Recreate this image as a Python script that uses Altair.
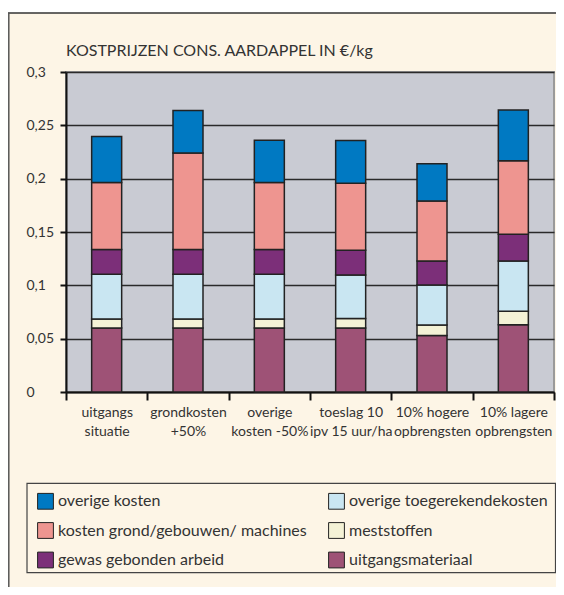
import altair as alt
import pandas as pd

categories = ["uitgangs|situatie", "grondkosten|+50%", "overige|kosten -50%",
              "toeslag 10|ipv 15 uur/ha", "10% hogere|opbrengsten", "10% lagere|opbrengsten"]

# stack order bottom -> top
uitgangsmateriaal = [0.060, 0.060, 0.060, 0.060, 0.053, 0.063]
meststoffen = [0.0085, 0.0085, 0.0085, 0.0088, 0.0098, 0.0126]
overige_toegerekend = [0.042, 0.042, 0.042, 0.041, 0.0375, 0.0472]
gewas_arbeid = [0.023, 0.023, 0.023, 0.023, 0.0225, 0.0252]
grond_gebouwen = [0.063, 0.0905, 0.063, 0.063, 0.0562, 0.0689]
overige_kosten = [0.043, 0.040, 0.0395, 0.040, 0.035, 0.0475]

series_names = ["uitgangsmateriaal", "meststoffen", "overige toegerekendekosten",
                "gewas gebonden arbeid", "kosten grond/gebouwen/ machines", "overige kosten"]
series_values = [uitgangsmateriaal, meststoffen, overige_toegerekend,
                 gewas_arbeid, grond_gebouwen, overige_kosten]

# legend is filled column by column
legend_order = ["overige kosten", "kosten grond/gebouwen/ machines", "gewas gebonden arbeid",
                "overige toegerekendekosten", "meststoffen", "uitgangsmateriaal"]
legend_colors = ["#0079C2", "#EE9590", "#7C2F79", "#C9E6F2", "#F4F2D6", "#9E5276"]

y_ticks = [0, 0.05, 0.1, 0.15, 0.2, 0.25, 0.3]

rows = []
for k, (name, vals) in enumerate(zip(series_names, series_values)):
    for c, v in zip(categories, vals):
        rows.append({"cat": c, "serie": name, "value": v, "ord": k})
df = pd.DataFrame(rows)

FONT = "Lato"
TXT = "#333333"

bars = alt.Chart(df).mark_bar(size=30, stroke="#222222", strokeWidth=1.5).encode(
    x=alt.X("cat:N", sort=categories, scale=alt.Scale(paddingInner=0, paddingOuter=0),
            axis=alt.Axis(title=None, labelExpr="split(datum.label, '|')", tickBand="extent",
                          labelAngle=0, labelFont=FONT, labelFontSize=14, labelColor=TXT,
                          labelLineHeight=19, labelPadding=5, labelBaseline="top",
                          tickSize=8, tickWidth=2, tickColor="#111111",
                          domainColor="#111111", domainWidth=2, grid=False)),
    y=alt.Y("value:Q", stack="zero", scale=alt.Scale(domain=[0, 0.3], nice=False),
            axis=alt.Axis(title=None, values=y_ticks, format="~g",
                          labelExpr="replace(datum.label, '.', ',')",
                          labelAlign="left", labelPadding=34, labelFont=FONT,
                          labelFontSize=14, labelColor=TXT,
                          tickSize=6, tickWidth=2, tickColor="#111111",
                          domainColor="#111111", domainWidth=2,
                          grid=True, gridColor="#2a2a2a", gridWidth=1.5)),
    color=alt.Color("serie:N", scale=alt.Scale(domain=legend_order, range=legend_colors),
                    legend=alt.Legend(title=None, orient="none", legendX=-38, legendY=411.5,
                                      columns=2, columnPadding=19, rowPadding=8.5,
                                      symbolType="square", symbolSize=250,
                                      symbolStrokeColor="#222222", symbolStrokeWidth=1,
                                      symbolOpacity=1, labelFont=FONT, labelFontSize=16,
                                      labelColor=TXT, labelOffset=4, labelLimit=400,
                                      padding=9)),
    order=alt.Order("ord:Q", sort="ascending"),
)

deco_data = pd.DataFrame({"a": [0]})
white_strip = alt.Chart(deco_data).mark_rect(color="white").encode(
    x=alt.value(-60), x2=alt.value(520), y=alt.value(-70), y2=alt.value(-59))
frame_top = alt.Chart(deco_data).mark_rule(color="#333333", strokeWidth=1.5).encode(
    x=alt.value(-58), x2=alt.value(520), y=alt.value(-59))
frame_left = alt.Chart(deco_data).mark_rule(color="#555555", strokeWidth=1.5).encode(
    x=alt.value(-57.2), y=alt.value(-59), y2=alt.value(530))
legend_box = alt.Chart(deco_data).mark_rect(fillOpacity=0, stroke="#444444", strokeWidth=1.2).encode(
    x=alt.value(-39), x2=alt.value(489.5), y=alt.value(411.3), y2=alt.value(500.7))

chart = alt.layer(bars, white_strip, frame_top, frame_left, legend_box).properties(
    width=488, height=320,
    autosize=alt.AutoSizeParams(type="none"),
    padding={"left": 58, "top": 64, "right": 2, "bottom": 195},
    background="#FDF5E6",
    title=alt.TitleParams("KOSTPRIJZEN CONS. AARDAPPEL IN €/kg", anchor="start", frame="group",
                          font=FONT, fontSize=16, fontWeight="normal", color=TXT,
                          baseline="alphabetic", offset=-60, dy=10),
).configure_view(fill="#C9CBD3", stroke="#9A9A9A", strokeWidth=2)

chart.save("out.html", embed_options={"renderer": "svg", "actions": False})
